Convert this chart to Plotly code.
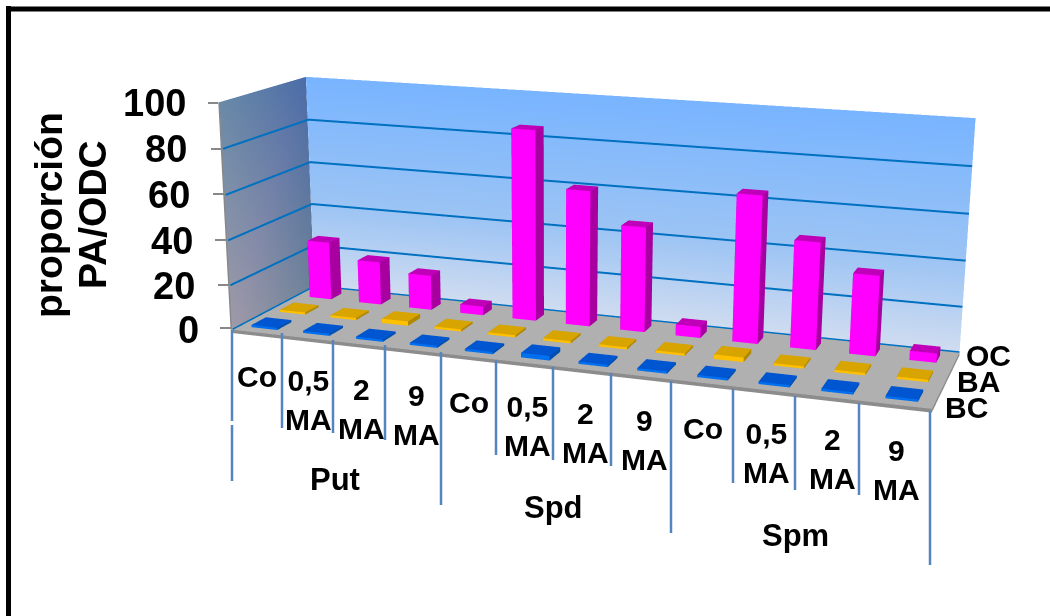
import plotly.graph_objects as go

# ---- data ----
doses = ["Co", "0,5<br>MA", "2<br>MA", "9<br>MA"] * 3
groups = ["Put", "Spd", "Spm"]
series_names = ["BC", "BA", "OC"]
OC = [27, 20, 16, 4, 86, 61, 47, 5, 65, 47, 35, 4]
BA = [1, 1, 2, 1, 1, 1, 1, 1, 2, 1, 1, 1]
BC = [1, 1, 1, 1, 1, 2, 1, 1, 1, 1, 1, 1]
z_ticks = [0, 20, 40, 60, 80, 100]

# ---- page geometry: a larger canvas gives the 3D view its long focal length ----
FW, FH, OFF = 1192, 1456, 407
XR = (0.0, 12.0)
YR = (0.0, 3.0)
ZR = (-2.0, 100.0)
EYE = dict(x=1.705, y=-4.93, z=1.249)
CEN = dict(x=0.043, y=-0.065, z=-0.267)
UP = dict(x=0.001, y=-0.024, z=1)
ASP = dict(x=2.2, y=0.556, z=0.736)

LIGHT = dict(ambient=1, diffuse=0, specular=0, fresnel=0)


def box(x0, x1, y0, y1, z0, z1, front, side, top):
    vx = [x0, x1, x1, x0, x0, x1, x1, x0]
    vy = [y0, y0, y1, y1, y0, y0, y1, y1]
    vz = [z0, z0, z0, z0, z1, z1, z1, z1]
    tris = [(0, 1, 5), (0, 5, 4), (1, 2, 6), (1, 6, 5), (4, 5, 6), (4, 6, 7),
            (2, 3, 7), (2, 7, 6), (3, 0, 4), (3, 4, 7), (0, 1, 2), (0, 2, 3)]
    cols = [front] * 2 + [side] * 2 + [top] * 2 + [side] * 6
    return vx, vy, vz, tris, cols


def add_boxes(fig, boxes):
    X, Y, Z, I, J, K, C = [], [], [], [], [], [], []
    for b in boxes:
        vx, vy, vz, tris, cols = box(*b)
        n = len(X)
        X += vx
        Y += vy
        Z += vz
        for t in tris:
            I.append(t[0] + n)
            J.append(t[1] + n)
            K.append(t[2] + n)
        C += cols
    fig.add_trace(go.Mesh3d(x=X, y=Y, z=Z, i=I, j=J, k=K, facecolor=C, flatshading=True,
                            lighting=LIGHT, hoverinfo="skip", showscale=False))


fig = go.Figure()
# back wall gradient
zl = [0, 40, 100]
cl = ["#d0dcf0", "#9cc4f4", "#78b4ff"]
vx, vy, vz, vc = [], [], [], []
for z, c in zip(zl, cl):
    vx += [0, 12]
    vy += [3, 3]
    vz += [z, z]
    vc += [c, c]
fig.add_trace(go.Mesh3d(x=vx, y=vy, z=vz, i=[0, 0, 2, 2], j=[1, 3, 3, 5], k=[3, 2, 5, 4], vertexcolor=vc,
                        lighting=LIGHT, hoverinfo="skip", showscale=False))
# left wall gradient
fig.add_trace(go.Mesh3d(x=[0, 0, 0, 0], y=[0, 3, 3, 0], z=[0, 0, 100, 100], i=[0, 0], j=[1, 2], k=[2, 3],
                        vertexcolor=["#a09aa8", "#6a8098", "#4b6ca8", "#6a8aa8"],
                        lighting=LIGHT, hoverinfo="skip", showscale=False))
# floor
add_boxes(fig, [(0, 12, 0, 3, -1.5, 0, "#8c8c8c", "#8c8c8c", "#b0b0b0")])
# bars
bw, bd = 0.25, 0.25
obw, obd = 0.22, 0.2
add_boxes(fig, [(i + .5 - bw, i + .5 + bw, .5 - bd, .5 + bd, 0, v, "#0070f0", "#0050b0", "#0055d0") for i, v in enumerate(BC)])
add_boxes(fig, [(i + .5 - bw, i + .5 + bw, 1.5 - bd, 1.5 + bd, 0, v, "#ffc000", "#b08800", "#d8a400") for i, v in enumerate(BA)])
add_boxes(fig, [(i + .5 - obw, i + .5 + obw, 2.5 - obd, 2.5 + obd, 0, v, "#ff00ff", "#a800a0", "#c000b8") for i, v in enumerate(OC)])
# gridlines
for z in z_ticks:
    fig.add_trace(go.Scatter3d(x=[0.03, 0.03, 12], y=[0, 2.98, 2.98], z=[z + .2] * 3, mode="lines",
                               line=dict(color="#0070c0", width=4), hoverinfo="skip", showlegend=False))
fig.add_trace(go.Scatter3d(x=[0, 0], y=[0, 0], z=[0, 100], mode="lines", line=dict(color="#888888", width=3),
                           hoverinfo="skip", showlegend=False))

noax = dict(visible=False)
fig.update_layout(
    width=FW, height=FH, margin=dict(l=0, r=0, t=0, b=0), paper_bgcolor="white", showlegend=False,
    scene=dict(domain=dict(x=[0, 1], y=[0, 1]), bgcolor="white", dragmode="orbit",
               xaxis=dict(range=XR, **noax), yaxis=dict(range=YR, **noax), zaxis=dict(range=ZR, **noax),
               aspectmode="manual", aspectratio=ASP,
               camera=dict(eye=EYE, center=CEN, up=UP, projection=dict(type="perspective"))),
)


def px(x):
    return x / FW


def py(y):
    return 1 - (y + OFF) / FH


shapes = []


def seg(x0, y0, x1, y1, color, width):
    shapes.append(dict(type="line", xref="paper", yref="paper", x0=px(x0), y0=py(y0), x1=px(x1), y1=py(y1),
                       line=dict(color=color, width=width)))


# category tick lines
tick_x = [282, 333, 385, 441, 496, 553, 611, 671, 733, 795, 859, 930]
tick_top = [333, 340, 345, 352, 360, 367, 373, 381, 389, 396, 403, 411]
tick_bot = [428, 433, 440, 505, 455, 460, 466, 533, 483, 490, 495, 565]
seg(232, 330, 232, 421, "#5585c0", 2.5)
seg(232, 425, 232, 481, "#5585c0", 2.5)
for a, b, c in zip(tick_x, tick_top, tick_bot):
    seg(a, b, a, c, "#5585c0", 2.5)
for a0, a1, b in zip([208, 211, 213, 215, 218, 220], [218, 222, 225, 227, 230, 232], [103, 149, 194, 240, 285, 328]):
    seg(a0, b, a1, b, "#888888", 2)
# top and left frame
seg(6, 9, 1050, 9, "black", 5)
seg(8.5, 6, 8.5, 616, "black", 5)

ann = []


def txt(s, x, y, size=30, rot=0):
    ann.append(dict(text=f"<b>{s}</b>", xref="paper", yref="paper", x=px(x), y=py(y), showarrow=False,
                    xanchor="center", yanchor="middle", textangle=rot,
                    font=dict(family="Liberation Sans", size=size, color="black")))


for s, x, y in zip(doses, [257, 309, 361, 416, 469, 527, 585, 644, 703, 766, 832, 896],
                   [376, 400, 409, 415, 402, 426, 433, 440, 428, 453, 459, 470]):
    txt(s, x, y)
for s, x, y in zip(groups, [335, 553, 795], [480, 507, 535]):
    txt(s, x, y, 31)
for s, x, y in zip(series_names, [966, 978, 988], [407, 381, 355]):
    txt(s, x, y)
for v, x, y in zip(z_ticks, [188, 174, 172, 169, 166, 154], [330, 286, 241, 195, 149, 103]):
    txt(str(v), x, y, 38)
txt("proporción", 48, 215, 39, -90)
txt("PA/ODC", 92, 215, 39, -90)
fig.update_layout(shapes=shapes, annotations=ann)
fig.write_html(
    "out.html",
    config=dict(displayModeBar=False),
    post_script=(
        "document.documentElement.style.overflow='hidden';"
        "document.body.style.overflow='hidden';"
        "document.body.style.margin='0';"
        f"document.getElementById('{{plot_id}}').style.marginTop='-{OFF}px';"
    ),
)
